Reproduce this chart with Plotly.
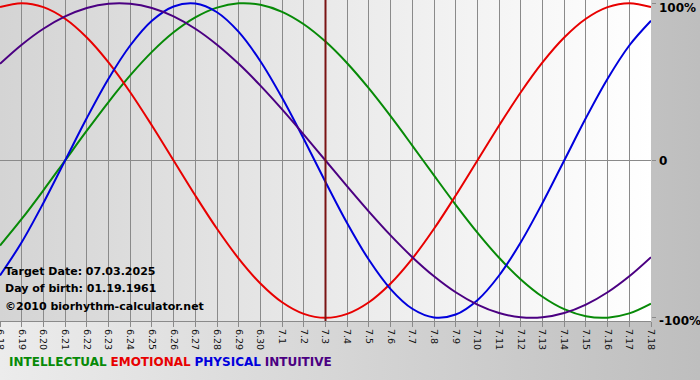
import base64
import plotly.graph_objects as go

# ---- data (one per day) ----
days = ["6.18", "6.19", "6.20", "6.21", "6.22", "6.23", "6.24", "6.25", "6.26", "6.27",
        "6.28", "6.29", "6.30", "7.1", "7.2", "7.3", "7.4", "7.5", "7.6", "7.7", "7.8",
        "7.9", "7.10", "7.11", "7.12", "7.13", "7.14", "7.15", "7.16", "7.17", "7.18"]

intellectual = [-0.5406, -0.3717, -0.1893, 0.0, 0.1893, 0.3717, 0.5406, 0.6901, 0.8146, 0.9096,
                0.9718, 0.9989, 0.9898, 0.9450, 0.8660, 0.7557, 0.6182, 0.4582, 0.2817, 0.0951,
                -0.0951, -0.2817, -0.4582, -0.6182, -0.7557, -0.8660, -0.9450, -0.9898, -0.9989,
                -0.9718, -0.9096]
emotional = [0.9749, 1.0, 0.9749, 0.9010, 0.7818, 0.6235, 0.4339, 0.2225, 0.0, -0.2225,
             -0.4339, -0.6235, -0.7818, -0.9010, -0.9749, -1.0, -0.9749, -0.9010, -0.7818, -0.6235,
             -0.4339, -0.2225, 0.0, 0.2225, 0.4339, 0.6235, 0.7818, 0.9010, 0.9749, 1.0, 0.9749]
physical = [-0.7308, -0.5196, -0.2698, 0.0, 0.2698, 0.5196, 0.7308, 0.8879, 0.9791, 0.9977,
            0.9423, 0.8170, 0.6310, 0.3984, 0.1362, -0.1362, -0.3984, -0.6310, -0.8170, -0.9423,
            -0.9977, -0.9791, -0.8879, -0.7308, -0.5196, -0.2698, 0.0, 0.2698, 0.5196, 0.7308, 0.8879]
intuitive = [0.6142, 0.7357, 0.8372, 0.9158, 0.9694, 0.9966, 0.9966, 0.9694, 0.9158, 0.8372,
             0.7357, 0.6142, 0.4759, 0.3247, 0.1646, 0.0, -0.1646, -0.3247, -0.4759, -0.6142,
             -0.7357, -0.8372, -0.9158, -0.9694, -0.9966, -0.9966, -0.9694, -0.9158, -0.8372,
             -0.7357, -0.6142]

series_names = ["INTELLECTUAL", "EMOTIONAL", "PHYSICAL", "INTUITIVE"]
series_colors = ["#078a07", "#e80000", "#0000dd", "#4b0082"]
y_tick_vals = [1, 0, -1]
y_tick_text = ["100%", "0", "-100%"]
target_day = "7.3"
info_lines = ["Target Date: 07.03.2025", "Day of birth: 01.19.1961", "\u00a92010 biorhythm-calculator.net"]

FONT = "DejaVu Sans"
W, H = 700, 380
PL, PR, PT, PB = 0, 49, 0, 59
plot_w = W - PL - PR
plot_h = H - PT - PB


def grad_uri(c0, c1):
    svg = ("<svg xmlns='http://www.w3.org/2000/svg' width='100' height='100' viewBox='0 0 100 100' "
           "preserveAspectRatio='none'><defs><linearGradient id='g' x1='0' x2='1' y1='0' y2='0'>"
           f"<stop offset='0' stop-color='{c0}'/><stop offset='1' stop-color='{c1}'/>"
           "</linearGradient></defs><rect width='100' height='100' fill='url(#g)'/></svg>")
    return "data:image/svg+xml;base64," + base64.b64encode(svg.encode()).decode()


fig = go.Figure()
for name, vals, col in zip(series_names, [intellectual, emotional, physical, intuitive], series_colors):
    fig.add_trace(go.Scatter(x=days, y=vals, mode="lines", name=name,
                             line=dict(color=col, width=2, shape="spline"),
                             hoverinfo="skip", showlegend=False))

fig.add_shape(type="line", xref="x", yref="paper",
              x0=days.index(target_day), x1=days.index(target_day), y0=0, y1=1,
              line=dict(color="#7a1414", width=2), layer="above")

fig.update_layout(
    width=W, height=H,
    margin=dict(l=PL, r=PR, t=PT, b=PB, pad=0),
    paper_bgcolor="rgba(0,0,0,0)", plot_bgcolor="rgba(0,0,0,0)",
    font=dict(family=FONT, color="#000000"),
    images=[
        dict(source=grad_uri("#ececec", "#bebebe"), xref="paper", yref="paper",
             x=-PL / plot_w, y=1 + PT / plot_h, sizex=W / plot_w, sizey=H / plot_h,
             sizing="stretch", xanchor="left", yanchor="top", layer="below"),
        dict(source=grad_uri("#d4d4d4", "#ffffff"), xref="paper", yref="paper",
             x=0, y=1, sizex=1, sizey=1,
             sizing="stretch", xanchor="left", yanchor="top", layer="below"),
    ],
    xaxis=dict(type="category", range=[0, len(days) - 1], showgrid=True, gridcolor="#8a8a8a",
               gridwidth=1, ticks="outside", ticklen=5, tickcolor="#8a8a8a", tickangle=90,
               tickfont=dict(family=FONT, size=9.5, color="#111111"), showline=True,
               linecolor="#8a8a8a", linewidth=1, zeroline=False, automargin=False,
               ticklabeloverflow="allow", fixedrange=True),
    yaxis=dict(range=[-1.02, 1.02], side="right", tickvals=y_tick_vals, showticklabels=False,
               showgrid=False, zeroline=True, zerolinecolor="#8a8a8a", zerolinewidth=1,
               ticks="outside", ticklen=4, tickcolor="#8a8a8a", showline=False,
               automargin=False, fixedrange=True),
)

# right-side percentage labels
for v, t, ys in zip(y_tick_vals, y_tick_text, [-5, 0, -3]):
    fig.add_annotation(text=f"<b>{t}</b>", xref="paper", yref="y", x=1, y=v, xanchor="left",
                       yanchor="middle", xshift=6, yshift=ys, showarrow=False,
                       font=dict(family=FONT, size=12, color="#000000"))

# info lines bottom-left
for i, line in enumerate(info_lines):
    pix = [271, 288, 306][i]
    fig.add_annotation(text=f"<b>{line}</b>", xref="paper", yref="paper", x=0, xshift=3,
                       y=1 - pix / plot_h, xanchor="left", yanchor="middle", showarrow=False,
                       font=dict(family=FONT, size=11, color="#000000"))

# colored legend text at bottom
legend_txt = " ".join(f"<span style='color:{c}'><b>{n}</b></span>"
                      for n, c in zip(series_names, series_colors))
fig.add_annotation(text=legend_txt, xref="paper", yref="paper", x=0, xshift=7,
                   y=1 - 362 / plot_h, xanchor="left", yanchor="middle", showarrow=False,
                   font=dict(family=FONT, size=12))

fig.write_html("out.html", config={"displayModeBar": False, "staticPlot": True},
               post_script="document.body.style.margin='0';document.body.style.padding='0';"
                           "document.body.style.overflow='hidden';")
